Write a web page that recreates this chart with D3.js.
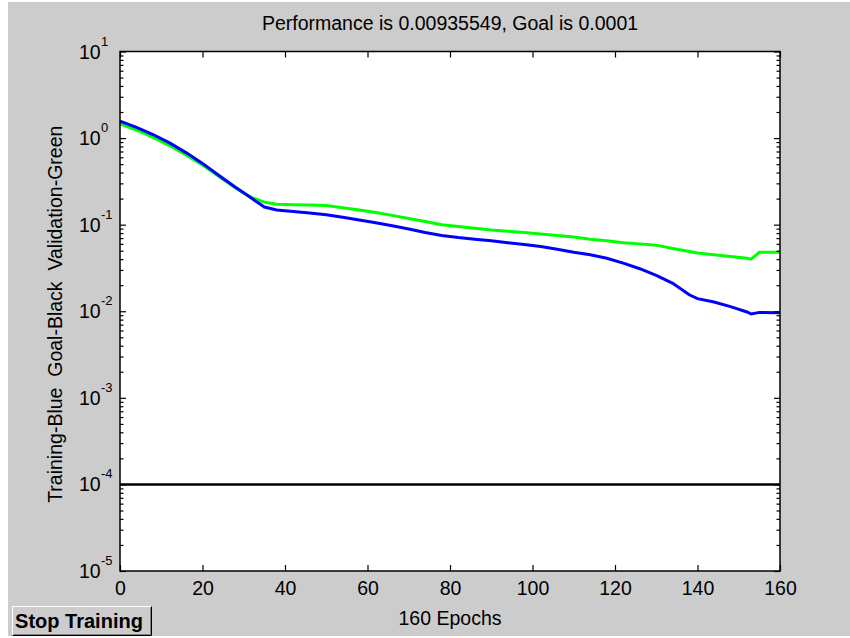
<!DOCTYPE html>
<html>
<head>
<meta charset="utf-8">
<script src="https://cdn.jsdelivr.net/npm/d3@7"></script>
<style>
    body { margin: 0; background: #ffffff; }
    svg text { font-family: "Liberation Sans", Arial, sans-serif; fill: #000; }
</style>
</head>
<body>
<div id="chart_parent"></div>
<script>
// values
const epochs = [0, 4, 8, 12, 16, 20, 24, 28, 32, 35, 38, 42, 46, 50, 54, 58, 62, 66, 70, 74, 78, 82, 86, 90, 94, 98, 102, 106, 110, 114, 118, 122, 126, 130, 134, 138, 140, 144, 148, 152, 153, 155, 160];
const trainPerf = [1.57, 1.33, 1.10, 0.88, 0.68, 0.51, 0.37, 0.27, 0.20, 0.16, 0.148, 0.142, 0.136, 0.130, 0.122, 0.113, 0.105, 0.097, 0.089, 0.081, 0.075, 0.071, 0.068, 0.065, 0.062, 0.059, 0.056, 0.052, 0.048, 0.045, 0.041, 0.036, 0.031, 0.026, 0.021, 0.0155, 0.0140, 0.0128, 0.0113, 0.0098, 0.0093, 0.0097, 0.0096];
const valPerf = [1.46, 1.24, 1.02, 0.82, 0.64, 0.49, 0.36, 0.265, 0.205, 0.182, 0.172, 0.170, 0.169, 0.166, 0.157, 0.148, 0.138, 0.128, 0.118, 0.109, 0.100, 0.095, 0.091, 0.087, 0.084, 0.081, 0.078, 0.075, 0.072, 0.068, 0.065, 0.062, 0.060, 0.058, 0.053, 0.049, 0.047, 0.045, 0.043, 0.041, 0.040, 0.048, 0.048];
const goal = 0.0001;

const xTicks = [0, 20, 40, 60, 80, 100, 120, 140, 160];
const yTicks = [1e-5, 1e-4, 1e-3, 1e-2, 1e-1, 1e0, 1e1];
const yExponents = ['-5', '-4', '-3', '-2', '-1', '0', '1'];

const titleText = 'Performance is 0.00935549, Goal is 0.0001';
const xLabel = '160 Epochs';
const yLabel = 'Training-Blue  Goal-Black  Validation-Green';

const config = {
    width: 850,
    height: 638,
    plot: { pLeft: 120, pRight: 780, pTop: 51.5, pBottom: 571 },
    fontSize: 19.5,
};

const svg = d3.select('#chart_parent').append('svg')
    .attr('width', config.width)
    .attr('height', config.height);

const { pLeft, pRight, pTop, pBottom } = config.plot;

// figure background
svg.append('rect')
    .attr('x', 8).attr('y', 2)
    .attr('width', config.width - 8).attr('height', 634)
    .attr('fill', '#cccccc');

svg.append('rect')
    .attr('x', pLeft).attr('y', pTop)
    .attr('width', pRight - pLeft).attr('height', pBottom - pTop)
    .attr('fill', '#ffffff');

const x = d3.scaleLinear().domain([0, 160]).range([pLeft, pRight]);
const y = d3.scaleLog().domain([1e-5, 10]).range([pBottom, pTop]);

const line = d3.line()
    .x((d, i) => x(epochs[i]))
    .y(d => y(d));

svg.append('line')
    .attr('x1', x(0)).attr('x2', x(160))
    .attr('y1', y(goal)).attr('y2', y(goal))
    .attr('stroke', '#000').attr('stroke-width', 2.5);

svg.append('path')
    .datum(valPerf)
    .attr('d', line)
    .attr('fill', 'none')
    .attr('stroke', '#00ff00')
    .attr('stroke-width', 3);

svg.append('path')
    .datum(trainPerf)
    .attr('d', line)
    .attr('fill', 'none')
    .attr('stroke', '#0000ff')
    .attr('stroke-width', 3);

// ticks, all pointing inwards like matlab
const minorTicks = y.ticks().filter(v => Math.abs(Math.log10(v) - Math.round(Math.log10(v))) > 1e-6);

function styleAxis(g) {
    g.select('.domain').remove();
    g.selectAll('.tick line').attr('stroke', '#000').attr('stroke-width', 1.2);
    g.selectAll('.tick text')
        .style('font-size', `${config.fontSize}px`)
        .style('font-family', '"Liberation Sans", Arial, sans-serif');
}

svg.append('g')
    .attr('transform', `translate(0,${pBottom})`)
    .call(d3.axisBottom(x).tickValues(xTicks).tickSizeInner(-6).tickSizeOuter(0).tickPadding(10))
    .call(styleAxis);

svg.append('g')
    .attr('transform', `translate(0,${pTop})`)
    .call(d3.axisTop(x).tickValues(xTicks).tickSizeInner(-6).tickSizeOuter(0).tickFormat(''))
    .call(styleAxis);

[[pLeft, d3.axisLeft], [pRight, d3.axisRight]].forEach(([pos, axisFn]) => {
    svg.append('g')
        .attr('transform', `translate(${pos},0)`)
        .call(axisFn(y).tickValues(yTicks).tickSizeInner(-6).tickSizeOuter(0).tickFormat(''))
        .call(styleAxis);
    svg.append('g')
        .attr('transform', `translate(${pos},0)`)
        .call(axisFn(y).tickValues(minorTicks).tickSizeInner(-3.5).tickSizeOuter(0).tickFormat(''))
        .call(styleAxis);
});

// y tick labels as 10 with superscript exponent
const yLabels = svg.append('g');
yTicks.forEach((v, i) => {
    yLabels.append('text')
        .attr('x', 79)
        .attr('y', y(v) + 7)
        .style('font-size', `${config.fontSize}px`)
        .text('10');
    yLabels.append('text')
        .attr('x', 101)
        .attr('y', y(v) - 6)
        .style('font-size', '13px')
        .text(yExponents[i]);
});

svg.append('rect')
    .attr('x', pLeft).attr('y', pTop)
    .attr('width', pRight - pLeft).attr('height', pBottom - pTop)
    .attr('fill', 'none')
    .attr('stroke', '#000')
    .attr('stroke-width', 1.5);

svg.append('text')
    .attr('x', (pLeft + pRight) / 2)
    .attr('y', 30)
    .attr('text-anchor', 'middle')
    .style('font-size', `${config.fontSize}px`)
    .text(titleText);

svg.append('text')
    .attr('x', (pLeft + pRight) / 2)
    .attr('y', 625)
    .attr('text-anchor', 'middle')
    .style('font-size', `${config.fontSize}px`)
    .text(xLabel);

svg.append('text')
    .attr('transform', `translate(62,${(pTop + pBottom) / 2 + 3}) rotate(-90)`)
    .attr('text-anchor', 'middle')
    .style('font-size', `${config.fontSize}px`)
    .style('white-space', 'pre')
    .text(yLabel);

// the stop training button
const button = svg.append('g').attr('transform', 'translate(12,606)');
button.append('rect')
    .attr('width', 140).attr('height', 30)
    .attr('fill', '#cccccc');
button.append('path')
    .attr('d', 'M0.5,29.5 V0.5 H139.5')
    .attr('fill', 'none').attr('stroke', '#ffffff');
button.append('path')
    .attr('d', 'M0.5,29.5 H139.5 V0.5')
    .attr('fill', 'none').attr('stroke', '#000000');
button.append('path')
    .attr('d', 'M1.5,28.5 H138.5 V1.5')
    .attr('fill', 'none').attr('stroke', '#808080');
button.append('text')
    .attr('x', 67)
    .attr('y', 22)
    .attr('text-anchor', 'middle')
    .style('font-size', '20px')
    .style('font-weight', 'bold')
    .text('Stop Training');
</script>
</body>
</html>
